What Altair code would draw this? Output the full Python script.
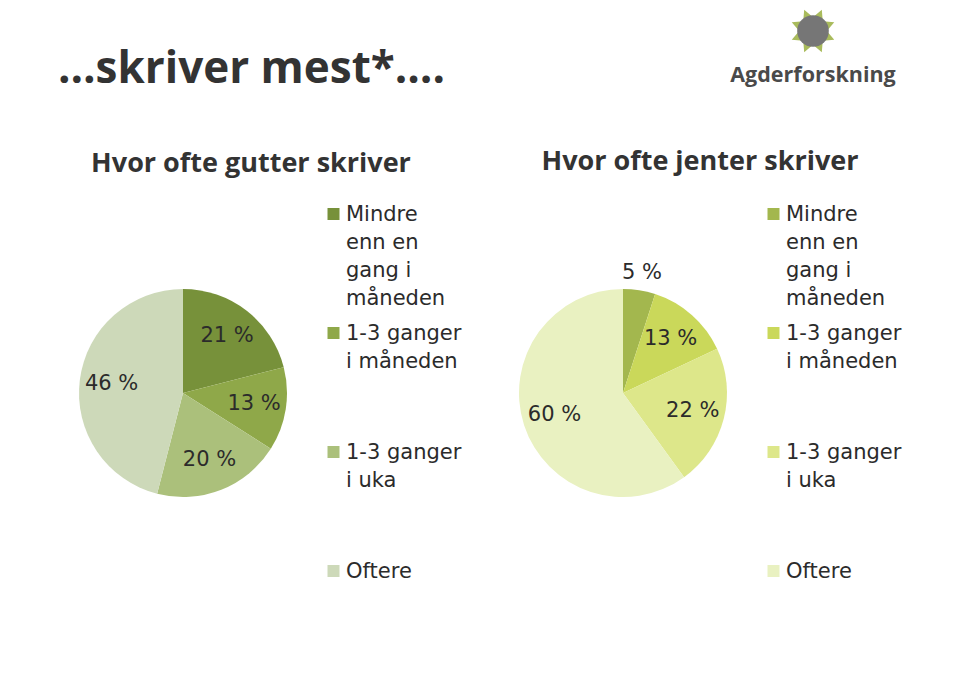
import math
import altair as alt
import pandas as pd

# ---- data -------------------------------------------------------------
categories = ["Mindre enn en gang i måneden", "1-3 ganger i måneden",
              "1-3 ganger i uka", "Oftere"]
legend_lines = ["Mindre\nenn en\ngang i\nmåneden", "1-3 ganger\ni måneden",
                "1-3 ganger\ni uka", "Oftere"]
gutter_values = [21, 13, 20, 46]
jenter_values = [5, 13, 22, 60]

main_title = "…skriver mest*…."
gutter_title = "Hvor ofte gutter skriver"
jenter_title = "Hvor ofte jenter skriver"
logo_text = "Agderforskning"

# ---- styles -----------------------------------------------------------
gutter_colors = ["#77913a", "#8fa849", "#abc07b", "#cdd9b9"]
jenter_colors = ["#a3b74e", "#cad85a", "#dde78a", "#e9f1c1"]
W, H = 944, 668
PIE_R = 104
TXT = "#2b2b2b"
FONT = "DejaVu Sans"
TFONT = "Open Sans"


def frame(prefix, values):
    return pd.DataFrame({
        "idx": list(range(len(categories))),
        "kategori": categories,
        "legend": legend_lines,
        "value": values,
        "key": [f"{prefix}{i}" for i in range(len(categories))],
        "label": [f"{v} %" for v in values],
    })


color_scale = alt.Scale(
    domain=[f"g{i}" for i in range(4)] + [f"j{i}" for i in range(4)],
    range=gutter_colors + jenter_colors,
)


def pie_group(df, cx, cy, lx):
    base = alt.Chart(df)
    arc = base.mark_arc(radius=PIE_R).encode(
        theta=alt.Theta("value:Q", stack=True),
        color=alt.Color("key:N", scale=color_scale, legend=None),
        order=alt.Order("idx:Q"),
        x=alt.value(cx), y=alt.value(cy),
    )
    labels = base.transform_window(
        cum="sum(value)", sort=[alt.SortField("idx")]
    ).transform_joinaggregate(
        total="sum(value)"
    ).transform_calculate(
        ang="2 * PI * (datum.cum - datum.value / 2) / datum.total",
        r="datum.value < 8 ? 121 : 72",
    ).mark_text(font=FONT, fontSize=21, color=TXT).encode(
        theta=alt.Theta("ang:Q", scale=None, stack=None),
        radius=alt.Radius("r:Q", scale=None),
        text="label:N",
        x=alt.value(cx), y=alt.value(cy),
    )
    squares = base.transform_calculate(
        ly="206 + 119 * datum.idx"
    ).mark_square(size=144, opacity=1).encode(
        x=alt.value(lx),
        y=alt.Y("ly:Q", scale=None),
        color=alt.Color("key:N", scale=color_scale, legend=None),
    )
    ltext = base.transform_calculate(
        ty="206 - 10 + 119 * datum.idx"
    ).mark_text(font=FONT, fontSize=21, color=TXT, align="left",
                baseline="top", lineBreak="\n", lineHeight=28).encode(
        x=alt.value(lx + 12.5),
        y=alt.Y("ty:Q", scale=None),
        text="legend:N",
    )
    return [arc, labels, squares, ltext]


def text_layer(s, x, y, size, weight="bold", align="left", color="#333333",
               font=TFONT, baseline="alphabetic"):
    return alt.Chart(pd.DataFrame({"t": [s]})).mark_text(
        font=font, fontSize=size, fontWeight=weight, align=align,
        baseline=baseline, color=color,
    ).encode(x=alt.value(x), y=alt.value(y), text="t:N")


g_df = frame("g", gutter_values)
j_df = frame("j", jenter_values)

layers = []
layers += pie_group(g_df, 175, 385, 325.5)
layers += pie_group(j_df, 615, 385, 765.5)

layers.append(text_layer(main_title, 50, 75, 44))
layers.append(text_layer(gutter_title, 243, 164, 27, align="center"))
layers.append(text_layer(jenter_title, 692, 162, 27, align="center"))

# logo: 8-pointed star with grey centre + name
pts = []
for k in range(16):
    a = math.pi * k / 8 + math.pi / 8
    rr = 1.0 if k % 2 == 0 else 0.6
    pts.append(f"{rr * math.sin(a):.3f},{-rr * math.cos(a):.3f}")
star_path = "M" + "L".join(pts) + "Z"
logo_df = pd.DataFrame({"t": [logo_text]})
star = alt.Chart(logo_df).mark_point(
    shape=star_path, size=2116, filled=True, color="#a9bb5c", opacity=1
).encode(x=alt.value(805), y=alt.value(23))
disc = alt.Chart(logo_df).mark_point(
    shape="circle", size=1000, filled=True, color="#767676", opacity=1
).encode(x=alt.value(805), y=alt.value(23))
layers += [star, disc]
layers.append(text_layer(logo_text, 805, 74, 21.5, color="#4a4a4a",
                         align="center"))

chart = alt.layer(*layers).properties(
    width=W, height=H,
    autosize=alt.AutoSizeParams(type="none"),
    padding=0,
).configure(
    background="white",
    view=alt.ViewConfig(stroke="transparent"),
)

chart.save("out.html", embed_options={"renderer": "svg", "actions": False})
